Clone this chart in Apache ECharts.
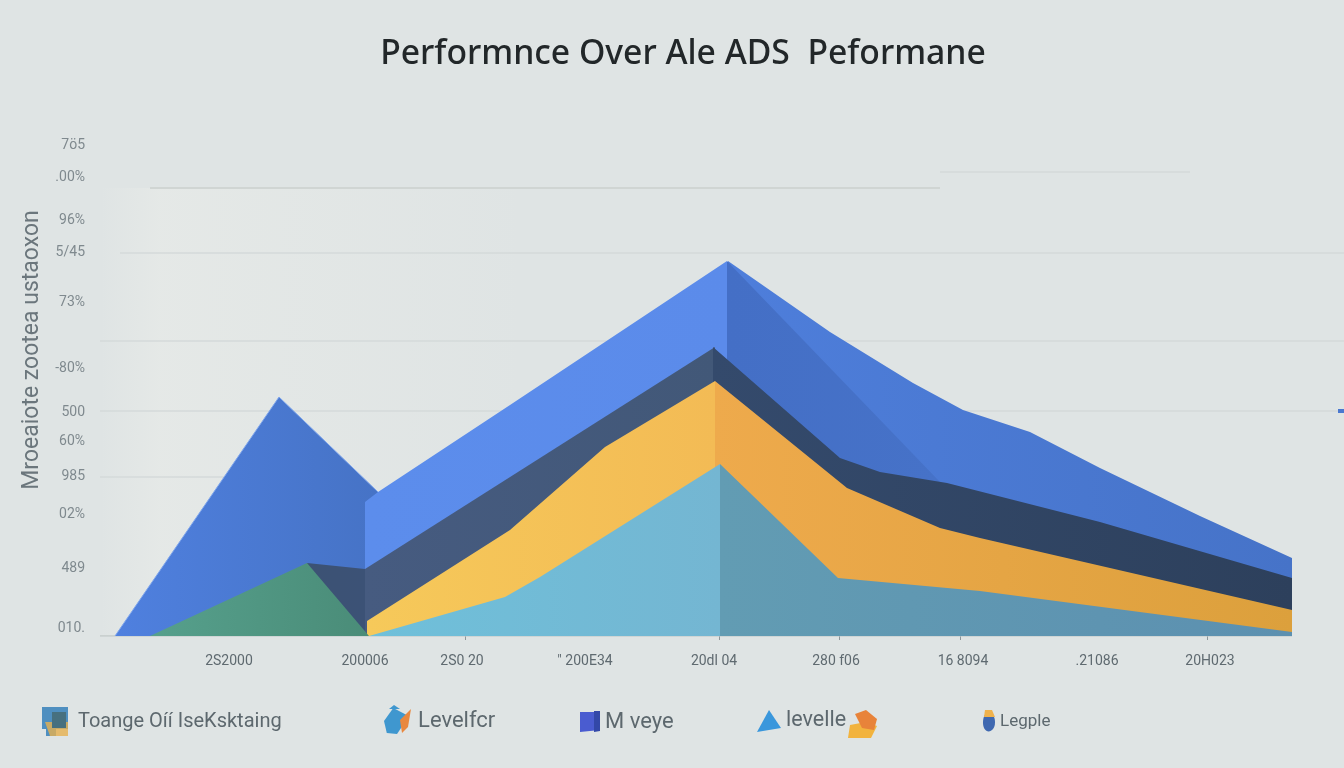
<!DOCTYPE html>
<html><head><meta charset="utf-8">
<style>html,body{margin:0;padding:0;background:#dfe4e4}#c{width:1344px;height:768px}</style>
<script src="https://cdn.jsdelivr.net/npm/echarts@6/dist/echarts.min.js"></script>
</head><body><div id="c"></div>
<script>
const titleText = 'Performnce Over Ale ADS  Peformane';
const yAxisTitle = 'Mroeaiote zootea ustaoxon';
const yTickValues = [98.2, 91.8, 83.2, 76.8, 66.8, 53.6, 44.8, 39, 32, 24.4, 13.6, 1.6];
const yTickLabels = ['7ö5', '.00%', '96%', '5/45', '73%', '-80%', '500', '60%', '985', '02%', '489', '010.'];
const xTickValues = [25.8, 53, 72.4, 97, 122.8, 147.2, 172.6, 199.4, 222];
const xTickLabels = ['2S2000', '200006', '2S0 20', '" 200E34', '20dl 04', '280 f06', '16 8094', '.21086', '20H023'];
const xTickMarks = [73, 123.8, 147.8, 172, 221.4];

const legendToange = 'Toange Oíí IseKsktaing';
const legendLevelfcr = 'Levelfcr';
const legendMveye = 'M veye';
const legendLevelle = 'levelle';
const legendLegple = 'Legple';

const backTriangle = [[3, 0], [35.8, 47.8], [55.6, 28.8]];
const blueRight = [[125.6, 75], [146, 60.8], [162.6, 50.6], [172.6, 45.2], [186, 40.8], [200, 33.6], [220, 24], [238.4, 15.6]];
const blueLeft = [[53, 26.8], [55.6, 28.8], [82, 46.2], [125.4, 75]];
const blueWedge = [[125.4, 75], [168, 30.8]];
const navyStub = [[41.4, 14.6], [53, 13.4]];
const navyLeft = [[53, 13.4], [123, 57.8]];
const navyRight = [[122.6, 57.8], [148, 35.6], [156, 32.8], [169.4, 30.6], [200, 22.8], [238.4, 11.6]];
const yellowLeft = [[53.4, 3], [82, 21.2], [101, 37.8], [123, 51]];
const orangeRight = [[123, 51], [149.4, 29.6], [168, 21.6], [176, 19.6], [238.4, 5.2]];
const cyanLeft = [[53.8, 0], [81, 7.8], [88, 11.8], [124, 34.4]];
const cyanRight = [[124, 34.4], [147.6, 11.6], [176, 9], [238.4, 0.8]];
const greenHill = [[10, 0], [41.4, 14.6], [53.8, 0]];

const baseLine = [[0, 0], [238.4, 0]];
const faintLines = [
  [[10, 89.6], [168, 89.6]],
  [[168, 92.8], [218, 92.8]],
  [[4, 76.6], [248.8, 76.6]],
  [[0, 59], [248.8, 59]],
  [[0, 45], [248.8, 45]],
  [[0, 31.8], [48, 31.8]]
];
const blueStub = [[247.6, 45], [248.8, 45]];

const grad = (a, b) => new echarts.graphic.LinearGradient(0, 0, 1, 0, [{offset: 0, color: a}, {offset: 1, color: b}]);
const area = (name, data, a, b, z, edge) => ({
  name, type: 'line', data, z, showSymbol: false, silent: true,
  lineStyle: edge ? {width: 1, color: edge} : {width: 0, opacity: 0},
  itemStyle: {color: a},
  areaStyle: {color: grad(a, b), opacity: 1}
});

const faintSeries = faintLines.map((d, i) => ({
  type: 'line', data: d, z: 1, showSymbol: false, silent: true,
  lineStyle: {width: i === 0 ? 2 : 1.5, color: i === 0 ? '#d0d5d3' : '#d5dada'}
}));

const series = [
  ...faintSeries,
  {type: 'line', data: baseLine, z: 1, showSymbol: false, silent: true, lineStyle: {width: 1.5, color: '#c3cac9'}},
  {type: 'line', data: blueStub, z: 1, showSymbol: false, silent: true, lineStyle: {width: 4, color: '#4a78d0'}},
  area(legendToange, backTriangle, '#4f80df', '#4673c6', 2, '#7fa6ec'),
  area(legendLevelfcr, blueRight, '#4e7edb', '#4673c8', 3),
  area(legendLevelfcr, blueLeft, '#5c8dec', '#5b8bea', 4),
  area(legendLevelfcr, blueWedge, '#446fc6', '#4672c8', 5),
  area(legendMveye, navyStub, '#3c5274', '#3c5276', 6),
  area(legendMveye, navyLeft, '#465b80', '#425878', 7),
  area(legendMveye, navyRight, '#344a6c', '#2d405c', 8),
  area(legendLegple, yellowLeft, '#f6c95a', '#f3bb55', 9),
  area(legendLegple, orangeRight, '#eeaa4c', '#dca03c', 10),
  area(legendLevelle, cyanLeft, '#6fc0da', '#74b6d2', 11),
  area(legendLevelle, cyanRight, '#629cb3', '#5c90b0', 12),
  area(legendToange, greenHill, '#56a08c', '#4a8c78', 13)
];

const legendBase = (name, icon, color, left, top, w, h, pad, size) => ({
  data: [{name, icon, itemStyle: {color, opacity: 1}}],
  left, top, itemWidth: w, itemHeight: h, selectedMode: false, padding: 0,
  textStyle: {color: '#5d686e', fontSize: size, fontFamily: 'Roboto', padding: [0, 0, 0, pad]}
});

const chart = echarts.init(document.getElementById('c'), null, {renderer: 'canvas'});
chart.setOption({
  animation: false,
  backgroundColor: '#dfe4e4',
  title: {
    text: titleText, left: 678, top: 32, textAlign: 'center',
    textStyle: {color: '#222729', fontSize: 33.7, fontWeight: 500, fontFamily: 'Noto Sans'}
  },
  grid: {left: 100, right: 0, top: 64, bottom: 132},
  xAxis: {
    type: 'value', min: 0, max: 248.8, splitLine: {show: false},
    axisLine: {show: false},
    axisTick: {show: true, customValues: xTickMarks, length: 4, lineStyle: {color: '#8d979b'}},
    axisLabel: {
      show: true, customValues: xTickValues, margin: 18, hideOverlap: false,
      color: '#5f6a70', fontSize: 14, fontFamily: 'Roboto',
      formatter: (v) => xTickLabels[xTickValues.indexOf(v)]
    }
  },
  yAxis: {
    type: 'value', min: 0, max: 114.4, splitLine: {show: false},
    axisLine: {show: false}, axisTick: {show: false},
    name: yAxisTitle, nameLocation: 'middle', nameGap: 53, nameRotate: 90,
    nameTextStyle: {color: '#6b767c', fontSize: 23, fontFamily: 'Roboto'},
    axisLabel: {
      show: true, customValues: yTickValues, margin: 15, hideOverlap: false,
      color: '#7f898e', fontSize: 14, fontFamily: 'Roboto',
      formatter: (v) => yTickLabels[yTickValues.indexOf(v)]
    }
  },
  legend: [
    legendBase(legendToange, 'path://M0 0H26V22H14V29H4V22H0Z', '#4f8fc0', 42, 707, 26, 29, 5, 20),
    legendBase(legendLevelfcr, 'path://M10 0L27 9L14 28L3 27L0 14Z', '#3f97cf', 384, 708, 27, 26, 3, 22),
    legendBase(legendMveye, 'path://M0 2H20V20L0 22Z', '#4a5cd0', 580, 711, 20, 22, 0, 22),
    legendBase(legendLevelle, 'path://M12 0L24 18L0 22Z', '#3a97dc', 757, 710, 24, 22, 0, 21.5),
    legendBase(legendLegple, 'path://M7 0C13 0 15 6 15 12C15 19 11 23 7 23C3 23 0 19 0 12C0 6 2 0 7 0Z', '#3f68b0', 983, 713, 12, 20, 0, 17)
  ],
  graphic: [
    {type: 'rect', z: -1, shape: {x: 100, y: 188, width: 425, height: 448},
      style: {fill: new echarts.graphic.LinearGradient(0, 0, 1, 0, [
        {offset: 0, color: 'rgba(236,238,234,0)'}, {offset: 0.14, color: 'rgba(236,238,234,0.45)'},
        {offset: 0.55, color: 'rgba(232,235,232,0.35)'}, {offset: 1, color: 'rgba(232,235,232,0)'}])}},
    {type: 'polygon', z: 10, shape: {points: [[850, 725], [866, 722], [877, 726], [871, 738], [848, 738]]}, style: {fill: '#f2b33e'}},
    {type: 'polygon', z: 10, shape: {points: [[855, 714], [866, 710], [877, 719], [874, 730], [862, 728]]}, style: {fill: '#e8833a'}},
    {type: 'polygon', z: 10, shape: {points: [[985, 710], [992, 710], [995, 717], [984, 717]]}, style: {fill: '#f0b24c'}},
    {type: 'polygon', z: 10, shape: {points: [[400, 720], [411, 709], [408, 727], [402, 733]]}, style: {fill: '#e9883f'}},
    {type: 'polygon', z: 9, shape: {points: [[389, 709], [394, 705], [400, 709]]}, style: {fill: '#3f97cf'}},
    {type: 'polygon', z: 10, shape: {points: [[45, 722], [68, 722], [68, 736], [50, 736]]}, style: {fill: '#e6b04f', opacity: 0.8}},
    {type: 'polygon', z: 11, shape: {points: [[52, 712], [66, 712], [66, 728], [52, 728]]}, style: {fill: '#47707f'}},
    {type: 'polygon', z: 10, shape: {points: [[594, 711], [600, 711], [600, 731], [594, 732]]}, style: {fill: '#3348a8'}}
  ],
  series
});
</script></body></html>
